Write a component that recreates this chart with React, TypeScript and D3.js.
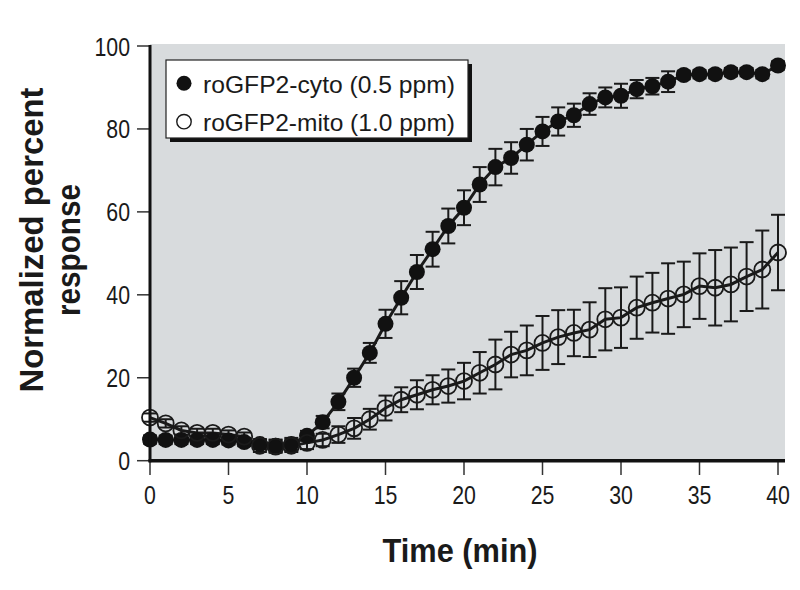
import React from 'react';
import * as d3 from 'd3';

const times = [0, 1, 2, 3, 4, 5, 6, 7, 8, 9, 10, 11, 12, 13, 14, 15, 16, 17, 18, 19, 20, 21, 22, 23, 24, 25, 26, 27, 28, 29, 30, 31, 32, 33, 34, 35, 36, 37, 38, 39, 40];

const cytoValues = [5.1, 5.0, 5.0, 5.0, 5.0, 4.9, 4.5, 4.0, 3.6, 4.0, 6.0, 9.3, 14.2, 20.0, 26.0, 33.0, 39.3, 45.5, 51.0, 56.6, 61.0, 66.6, 70.8, 73.0, 76.2, 79.4, 81.8, 83.3, 86.0, 87.6, 88.0, 89.6, 90.3, 91.4, 93.0, 93.2, 93.2, 93.7, 93.7, 93.2, 95.3];
const cytoErrors = [1, 1, 1, 1, 1, 1, 1, 1.2, 1.5, 1.5, 1.2, 1.5, 2, 2.2, 2.4, 3.4, 4, 4.1, 4.2, 4.2, 4.2, 4.2, 4.4, 3.8, 3.8, 3.5, 3.4, 2.8, 2.6, 2.4, 2.9, 2.2, 2, 2.5, 1, 1, 1, 1, 1, 1, 1];

const mitoValues = [10.4, 9.0, 7.3, 6.7, 6.7, 6.3, 5.8, 3.6, 3.4, 3.6, 4.3, 5.0, 6.3, 7.8, 10.0, 12.7, 14.7, 15.9, 17.1, 18.0, 19.2, 21.2, 23.2, 25.6, 26.6, 28.4, 29.8, 30.8, 31.6, 34.1, 34.5, 36.9, 38.1, 39.1, 40.1, 42.1, 41.7, 42.5, 44.4, 46.1, 50.2];
const mitoErrors = [1, 1, 1, 1, 1, 1, 1, 1.5, 1.5, 1.5, 1.5, 1.5, 2, 2.5, 2.5, 3, 3, 3.5, 3.5, 4, 4.4, 5, 6, 5.5, 6, 6.5, 6.5, 5.6, 6.6, 7.5, 7.3, 7.5, 7.2, 8.5, 7.9, 7.9, 9.1, 8.9, 8.3, 9.4, 9.1];

const xTicks = [0, 5, 10, 15, 20, 25, 30, 35, 40];
const yTicks = [0, 20, 40, 60, 80, 100];

const seriesNames = ['roGFP2-cyto (0.5 ppm)', 'roGFP2-mito (1.0 ppm)'];
const xTitle = 'Time (min)';
const yTitleLines = ['Normalized percent', 'response'];

const W = 800;
const H = 590;
const x = d3.scaleLinear().domain([0, 40]).range([150, 778]);
const y = d3.scaleLinear().domain([0, 100]).range([460.7, 46]);

const FONT = '"Liberation Sans", Arial, "Helvetica", sans-serif';
const INK = '#1a1a1a';
const SQ = 0.82; // horizontal condensing factor

type Pt = { t: number; v: number; e: number };

function build(vals: number[], errs: number[]): Pt[] {
  return times.map((t, i) => ({ t, v: vals[i], e: errs[i] }));
}

const cyto = build(cytoValues, cytoErrors);
const mito = build(mitoValues, mitoErrors);

const line = d3
  .line<Pt>()
  .x((d) => x(d.t))
  .y((d) => y(d.v));

const CAP = 7;

function ErrorBars({ data }: { data: Pt[] }) {
  return (
    <g stroke={INK} strokeWidth={2} fill="none">
      {data.map((d, i) => {
        const cx = x(d.t);
        const y1 = y(d.v + d.e);
        const y2 = y(d.v - d.e);
        return (
          <g key={i}>
            <line x1={cx} x2={cx} y1={y1} y2={y2} />
            <line x1={cx - CAP} x2={cx + CAP} y1={y1} y2={y1} />
            <line x1={cx - CAP} x2={cx + CAP} y1={y2} y2={y2} />
          </g>
        );
      })}
    </g>
  );
}

function CText(props: {
  x: number;
  y: number;
  anchor?: 'start' | 'middle' | 'end';
  size: number;
  bold?: boolean;
  children: React.ReactNode;
}) {
  const { x: tx, y: ty, anchor = 'start', size, bold, children } = props;
  return (
    <text
      transform={`translate(${tx},${ty}) scale(${SQ},1)`}
      textAnchor={anchor}
      fontFamily={FONT}
      fontWeight={bold ? 'bold' : 'normal'}
      fontSize={size}
      fill={INK}
    >
      {children}
    </text>
  );
}

export default function App() {
  const plotLeft = 150;
  const plotRight = 785;
  const plotTop = 44;
  const plotBottom = 460.7;
  const R = 8;

  return (
    <svg
      width={W}
      height={H}
      viewBox={`0 0 ${W} ${H}`}
      style={{ position: 'absolute', left: 0, top: 0, background: '#ffffff' }}
    >
      <rect x={0} y={0} width={W} height={H} fill="#ffffff" />
      <rect x={plotLeft} y={plotTop} width={plotRight - plotLeft} height={plotBottom - plotTop} fill="#d8dbdd" />

      {/* y ticks */}
      <g>
        {yTicks.map((t) => (
          <g key={t}>
            <line x1={137} x2={plotLeft} y1={y(t)} y2={y(t)} stroke="#333" strokeWidth={1.5} />
            <CText x={130} y={y(t) + 9.5} anchor="end" size={26}>
              {t}
            </CText>
          </g>
        ))}
      </g>

      {/* x ticks */}
      <g>
        {xTicks.map((t) => (
          <g key={t}>
            <line x1={x(t)} x2={x(t)} y1={plotBottom} y2={475} stroke="#333" strokeWidth={1.5} />
            <CText x={x(t)} y={504} anchor="middle" size={26}>
              {t}
            </CText>
          </g>
        ))}
      </g>

      <ErrorBars data={cyto} />
      <ErrorBars data={mito} />

      <path d={line(cyto) || ''} fill="none" stroke={INK} strokeWidth={3} />
      <path d={line(mito) || ''} fill="none" stroke={INK} strokeWidth={3} />

      <g>
        {cyto.map((d, i) => (
          <circle key={i} cx={x(d.t)} cy={y(d.v)} r={R} fill="#111" />
        ))}
      </g>
      <g>
        {mito.map((d, i) => (
          <circle key={i} cx={x(d.t)} cy={y(d.v)} r={R} fill="none" stroke={INK} strokeWidth={1.8} />
        ))}
      </g>

      {/* axes */}
      <line x1={plotLeft} x2={plotLeft} y1={plotTop + 1} y2={plotBottom + 1.5} stroke="#111" strokeWidth={3} />
      <line x1={plotLeft - 1.5} x2={plotRight} y1={plotBottom} y2={plotBottom} stroke="#111" strokeWidth={3.5} />

      {/* legend */}
      <rect x={170} y={64} width={302} height={78} fill="#111" />
      <rect x={166} y={60} width={302} height={78} fill="#ffffff" stroke="#222" strokeWidth={1.2} />
      <circle cx={184} cy={83.3} r={7.5} fill="#111" />
      <circle cx={184} cy={121.7} r={7.2} fill="#fff" stroke={INK} strokeWidth={1.4} />
      <text x={203} y={92.5} fontFamily={FONT} fontSize={24} fill={INK} textLength={252} lengthAdjust="spacingAndGlyphs">
        {seriesNames[0]}
      </text>
      <text x={203} y={131} fontFamily={FONT} fontSize={24} fill={INK} textLength={252} lengthAdjust="spacingAndGlyphs">
        {seriesNames[1]}
      </text>

      {/* axis titles */}
      <text
        x={(plotLeft + 778) / 2 - 4}
        y={562}
        textAnchor="middle"
        fontFamily={FONT}
        fontWeight="bold"
        fontSize={33}
        fill={INK}
        textLength={155}
        lengthAdjust="spacingAndGlyphs"
      >
        {xTitle}
      </text>
      <g transform="translate(43,240) rotate(-90)">
        <text
          x={0}
          y={0}
          textAnchor="middle"
          fontFamily={FONT}
          fontWeight="bold"
          fontSize={34}
          fill={INK}
          textLength={305}
          lengthAdjust="spacingAndGlyphs"
        >
          {yTitleLines[0]}
        </text>
      </g>
      <g transform="translate(79.5,250) rotate(-90)">
        <text
          x={0}
          y={0}
          textAnchor="middle"
          fontFamily={FONT}
          fontWeight="bold"
          fontSize={34}
          fill={INK}
          textLength={132}
          lengthAdjust="spacingAndGlyphs"
        >
          {yTitleLines[1]}
        </text>
      </g>
    </svg>
  );
}
